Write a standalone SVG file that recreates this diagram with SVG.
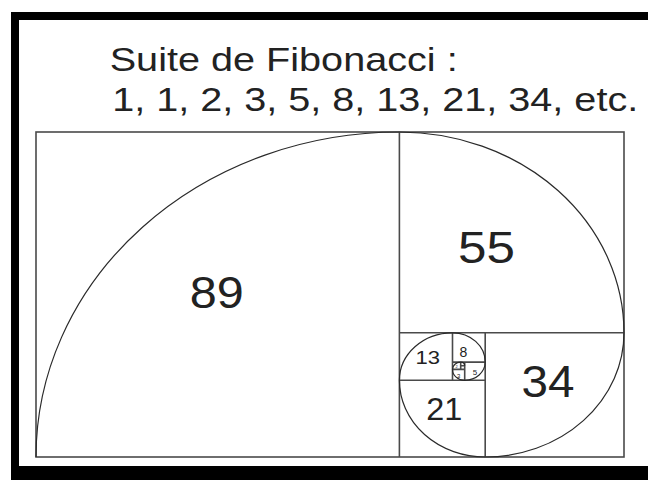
<svg xmlns="http://www.w3.org/2000/svg" width="648" height="482" viewBox="0 0 648 482">
<style>
.frame{fill:#000}
.sq{fill:none;stroke:#4a4a4a;stroke-width:1.6}
.sp{fill:none;stroke:#2a2a2a;stroke-width:1.2}
text{font-family:"Liberation Sans",Arial,sans-serif;fill:#222}
.t{font-size:33px}
.big{font-size:44px;text-anchor:middle}
</style>
<rect width="648" height="482" fill="#fff"/>
<g id="frame">
<rect class="frame" x="11" y="12" width="637" height="8"/>
<rect class="frame" x="11" y="12" width="8" height="468"/>
<rect class="frame" x="11" y="466" width="637" height="14"/>
</g>
<g id="title">
<text class="t" x="109.7" y="70.5" textLength="348" lengthAdjust="spacingAndGlyphs">Suite de Fibonacci :</text>
<text class="t" x="112.2" y="111" textLength="526" lengthAdjust="spacingAndGlyphs">1, 1, 2, 3, 5, 8, 13, 21, 34, etc.</text>
</g>
<g id="connectors">
<rect class="sq" x="36" y="132" width="588" height="325"/>
<path class="sq" d="M399.4,132V457 M399.4,332.8H624 M485.2,332.8V457 M399.4,380.3H485.2 M452.5,332.8V380.3 M452.5,362.1H485.2 M464.7,362.1V380.3 M452.5,369.4H464.7 M460.7,362.1V369.4 M460.7,365.7H464.7"/>
<path class="sp" d="M36,457 A363.4,325 0 0 1 399.4,132 A224.6,200.8 0 0 1 624,332.8 A138.8,124.2 0 0 1 485.2,457 A85.75,76.7 0 0 1 399.4,380.3 A53.1,47.5 0 0 1 452.5,332.8 A32.7,29.2 0 0 1 485.2,362.1 A20.4,18.3 0 0 1 464.7,380.3 A12.25,10.95 0 0 1 452.5,369.4 A8.17,7.3 0 0 1 460.7,362.1 A4.08,3.65 0 0 1 464.7,365.7"/>
</g>
<g id="n89"><text class="big" x="216.7" y="308.3" textLength="54" lengthAdjust="spacingAndGlyphs">89</text></g>
<g id="n55"><text class="big" x="486.4" y="262.7" textLength="57" lengthAdjust="spacingAndGlyphs">55</text></g>
<g id="n34"><text class="big" x="548" y="396.7" textLength="53" lengthAdjust="spacingAndGlyphs">34</text></g>
<g id="n21"><text x="444.3" y="420" font-size="31.7" text-anchor="middle" textLength="36" lengthAdjust="spacingAndGlyphs">21</text></g>
<g id="n13"><text x="427.8" y="364.3" font-size="19" text-anchor="middle" textLength="24.5" lengthAdjust="spacingAndGlyphs">13</text></g>
<g id="n8"><text x="463.3" y="356.7" font-size="14" text-anchor="middle">8</text></g>
<g id="n5"><text x="474.9" y="374.5" font-size="8" text-anchor="middle">5</text></g>
<g id="n3"><text x="458.6" y="377.5" font-size="6" text-anchor="middle">3</text></g>
<g id="n2"><text x="456.6" y="368" font-size="4" text-anchor="middle">2</text></g>
</svg>
